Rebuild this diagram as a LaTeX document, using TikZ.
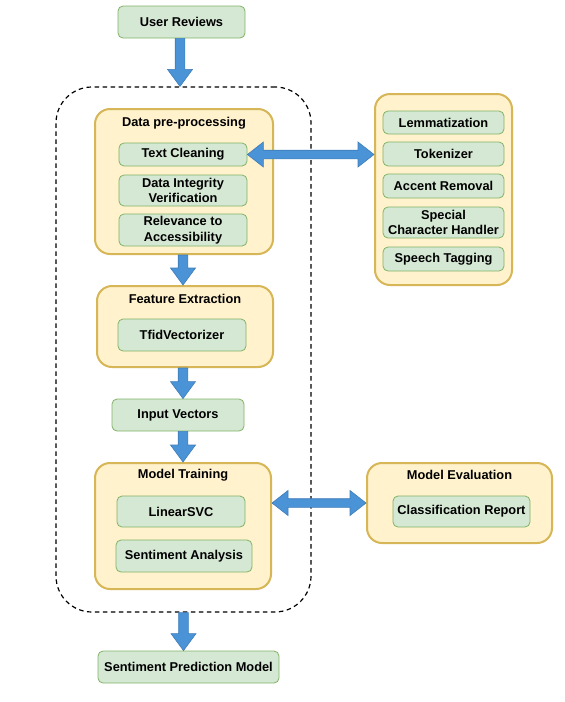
\documentclass[tikz,border=0pt]{standalone}
\usepackage{fontspec}
\setmainfont{Liberation Sans}
\usetikzlibrary{calc}
\definecolor{gfill}{HTML}{D5E8D4}
\definecolor{gline}{HTML}{82B366}
\definecolor{yfill}{HTML}{FFF2CC}
\definecolor{yline}{HTML}{D6B656}
\definecolor{afill}{HTML}{4A93D6}
\definecolor{aline}{HTML}{3F7DB8}
\tikzset{
  gbox/.style={draw=gline, fill=gfill, line width=0.8pt, rounded corners=5pt, align=center, inner sep=0pt, font=\fontsize{12.8}{15.5}\selectfont\bfseries},
  ybox/.style={draw=yline, fill=yfill, line width=2pt, rounded corners=15pt, inner sep=0pt},
  ttl/.style={font=\fontsize{12.8}{15.5}\selectfont\bfseries, inner sep=0pt},
  blk/.style={fill=afill, draw=aline, line width=0.6pt, line join=miter},
  dashbox/.style={draw=black, line width=1.2pt, dash pattern=on 4.5pt off 3.5pt, rounded corners=36pt, inner sep=0pt}
}
\newcommand\vblockarrow[2]{\fill[blk] let \p1=(#1), \p2=(#2) in
  (\x1-4.8pt,\y1) -- (\x1+4.8pt,\y1) -- (\x1+4.8pt,\y2+17pt) -- (\x1+12.5pt,\y2+17pt)
  -- (\x1,\y2) -- (\x1-12.5pt,\y2+17pt) -- (\x1-4.8pt,\y2+17pt) -- cycle;}
\newcommand\hdoublearrow[2]{\fill[blk] let \p1=(#1), \p2=(#2) in
  (\x1,\y1) -- (\x1+16pt,\y1+12.5pt) -- (\x1+16pt,\y1+4.3pt) -- (\x2-16pt,\y1+4.3pt)
  -- (\x2-16pt,\y1+12.5pt) -- (\x2,\y1) -- (\x2-16pt,\y1-12.5pt) -- (\x2-16pt,\y1-4.3pt)
  -- (\x1+16pt,\y1-4.3pt) -- (\x1+16pt,\y1-12.5pt) -- cycle;}
\begin{document}
\begin{tikzpicture}[x=1pt,y=-1pt]
\useasboundingbox[fill=white] (0,0) rectangle (565,702);

% dashed container
\node[dashbox, minimum width=255pt, minimum height=525pt] (dash) at (183.5,349.5) {};

% top
\node[gbox, minimum width=127pt, minimum height=32pt] (ur) at (181.5,22) {User Reviews};

% data pre-processing
\node[ybox, minimum width=178pt, minimum height=145pt] (pre) at (184,181.5) {};
\node[ttl] (pret) at (184,123) {Data pre-processing};
\node[gbox, minimum width=128pt, minimum height=23pt] (tc) at (183,154.5) {Text Cleaning};
\node[gbox, minimum width=128pt, minimum height=31pt] (div) at (183,190.5) {Data Integrity\\Verification};
\node[gbox, minimum width=128pt, minimum height=32pt] (rel) at (183,230) {Relevance to\\Accessibility};

% right box
\node[ybox, minimum width=137pt, minimum height=191pt] (rb) at (443.5,189.5) {};
\node[gbox, minimum width=121pt, minimum height=23pt] (lem) at (443.5,122.5) {Lemmatization};
\node[gbox, minimum width=121pt, minimum height=24pt] (tok) at (443.5,154) {Tokenizer};
\node[gbox, minimum width=121pt, minimum height=24pt] (acc) at (443.5,186) {Accent Removal};
\node[gbox, minimum width=121pt, minimum height=31pt] (spc) at (443.5,222.5) {Special\\Character Handler};
\node[gbox, minimum width=121pt, minimum height=24pt] (spt) at (443.5,259) {Speech Tagging};

% feature extraction
\node[ybox, minimum width=176pt, minimum height=81pt] (fe) at (185,326.5) {};
\node[ttl] (fet) at (185,299) {Feature Extraction};
\node[gbox, minimum width=128pt, minimum height=32pt] (tfid) at (182,335) {TfidVectorizer};

% input vectors
\node[gbox, minimum width=132pt, minimum height=32pt] (iv) at (178,415) {Input Vectors};

% model training
\node[ybox, minimum width=176pt, minimum height=126pt] (mt) at (183,526) {};
\node[ttl] (mtt) at (183,475) {Model Training};
\node[gbox, minimum width=128pt, minimum height=31pt] (lsvc) at (181,511.5) {LinearSVC};
\node[gbox, minimum width=136pt, minimum height=32pt] (sa) at (184,556) {Sentiment Analysis};

% model evaluation
\node[ybox, minimum width=185pt, minimum height=80pt] (me) at (459.5,503) {};
\node[ttl] (met) at (459.5,475) {Model Evaluation};
\node[gbox, minimum width=137pt, minimum height=31pt] (cr) at (461.5,511.5) {Classification Report};

% output
\node[gbox, minimum width=181pt, minimum height=32pt] (spm) at (188.5,667) {Sentiment Prediction Model};

% arrow start points
\coordinate (a1) at ($(ur.south)+(-1.5,0)$);
\coordinate (a2) at ($(pre.south)+(-1,0)$);
\coordinate (a3) at ($(fe.south)+(-2,0)$);
\coordinate (a4) at ($(iv.south)+(5,0)$);

% arrows
\vblockarrow{a1}{a1 |- dash.north}
\vblockarrow{a2}{a2 |- fe.north}
\vblockarrow{a3}{a3 |- iv.north}
\vblockarrow{a4}{a4 |- mt.north}
\vblockarrow{dash.south}{dash.south |- spm.north}
\hdoublearrow{tc.east}{tc.east -| rb.west}
\hdoublearrow{mt.east |- me.west}{me.west}
\end{tikzpicture}
\end{document}
